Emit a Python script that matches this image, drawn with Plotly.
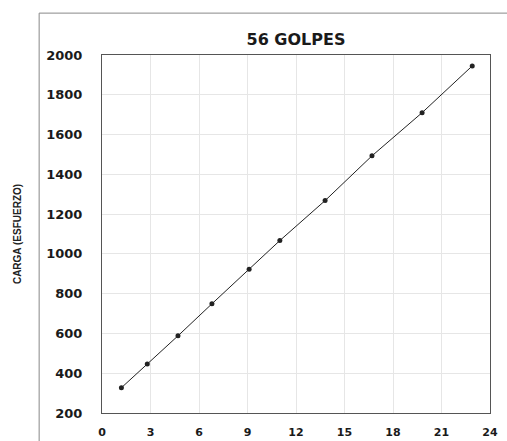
import plotly.graph_objects as go

# Número de golpes vs. carga aplicada (ensayo a 56 golpes)
golpes = [1.2, 2.8, 4.7, 6.8, 9.1, 11.0, 13.8, 16.7, 19.8, 22.9]
carga = [327, 446, 588, 749, 923, 1067, 1268, 1493, 1710, 1945]

x_ticks = [0, 3, 6, 9, 12, 15, 18, 21, 24]
y_ticks = [200, 400, 600, 800, 1000, 1200, 1400, 1600, 1800, 2000]

fig = go.Figure()
fig.add_trace(go.Scatter(
    x=golpes, y=carga,
    mode="lines+markers",
    line=dict(color="#222222", width=1),
    marker=dict(color="#222222", size=5, symbol="circle"),
    showlegend=False,
))

tick_font = dict(family="DejaVu Sans, sans-serif", size=13, color="#1a1a1a", weight="bold")

fig.update_layout(
    width=507, height=441,
    margin=dict(l=102, r=17, t=55, b=28),
    paper_bgcolor="white",
    plot_bgcolor="white",
    title=dict(
        text="<b>56 GOLPES</b>",
        x=0.5, xref="paper", xanchor="center",
        y=1, yref="paper", yanchor="bottom", pad=dict(b=10),
        font=dict(family="DejaVu Sans, sans-serif", size=16, color="#1a1a1a"),
    ),
    xaxis=dict(
        range=[0, 24], tickvals=x_ticks, ticktext=[str(v) for v in x_ticks],
        showgrid=True, gridcolor="#e6e6e6", gridwidth=1,
        showline=True, linecolor="#555555", linewidth=1, mirror=True,
        ticks="", tickfont=dict(tick_font, size=11), ticklabelstandoff=9,
        zeroline=False, automargin=False,
    ),
    yaxis=dict(
        range=[200, 2000], tickvals=y_ticks, ticktext=[str(v) for v in y_ticks],
        showgrid=True, gridcolor="#e6e6e6", gridwidth=1,
        showline=True, linecolor="#555555", linewidth=1, mirror=True,
        ticks="", tickfont=tick_font, ticklabelstandoff=16, zeroline=False, automargin=False,
        title=dict(text="<b>CARGA (ESFUERZO)</b>", standoff=22,
                   font=dict(family="Liberation Sans, Arial, sans-serif", size=10, color="#222222")),
    ),
)

# Borde del área del gráfico
fig.add_shape(
    type="rect", xref="paper", yref="paper",
    x0=-0.162, x1=1.2, y0=-0.2, y1=1.117,
    line=dict(color="#888888", width=1), fillcolor="rgba(0,0,0,0)", layer="below",
)

fig.write_html("out.html")
